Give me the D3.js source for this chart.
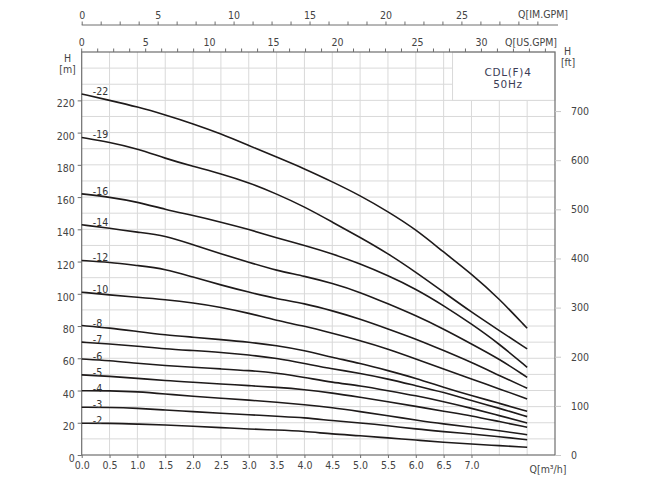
<!DOCTYPE html>
<html>
<head>
<meta charset="utf-8">
<script src="https://cdn.jsdelivr.net/npm/d3@7"></script>
<style>
  body { margin: 0; background: #fff; }
  text { font-family: "Liberation Sans Narrow", "DejaVu Sans Condensed", "Roboto Condensed", sans-serif; fill: #444; }
</style>
</head>
<body>
<script>
// frame
const FRAME_WIDTH = 650;
const FRAME_HEIGHT = 486;
const PLOT = {left: 81.7, right: 555, top: 52, bottom: 455};

// data
const flows = [0, 0.5, 1, 1.5, 2, 2.5, 3, 3.5, 4, 4.5, 5, 5.5, 6, 6.5, 7, 7.5, 8];   // m3/h
const stages = [22, 19, 16, 14, 12, 10, 8, 7, 6, 5, 4, 3, 2];
const heads22 = [224, 220, 216, 211, 205.5, 199.3, 192, 184.8, 177.6, 169.5, 161, 151, 140, 125.8, 112.4, 96.9, 78.6];
const heads19 = [197, 194, 190, 184, 179, 174.5, 169, 162, 154, 144.5, 135, 125, 113.4, 101, 88.6, 77.2, 65.8];
const heads16 = [162, 160, 157, 152.3, 148.6, 144.5, 140, 134.7, 130, 124.8, 118.6, 111.3, 103, 92.7, 81.3, 68.9, 54.4];
const heads14 = [142.8, 140.7, 138.2, 136.2, 130.4, 124.8, 119.6, 114.4, 111, 106.5, 101, 93.8, 86.5, 78.2, 68.9, 59.6, 48.2];
const heads12 = [120.7, 119.6, 117.5, 115.5, 110.3, 105.5, 101, 96.9, 94, 89.5, 84.4, 78.2, 72, 64.8, 57.5, 49.3, 41.4];
const heads10 = [101, 99.3, 97.9, 96.4, 94.4, 91.7, 88, 83.4, 80, 75.5, 71, 65.8, 59.6, 53.4, 47.2, 41, 34.8];
const heads8 = [80.3, 78.8, 76.6, 74.5, 73.1, 71.6, 70, 67.9, 64.8, 60.6, 56.9, 52.4, 47.6, 42, 36.8, 32.1, 27.1];
const heads7 = [70, 68.9, 67.5, 65.8, 64.8, 63.7, 62.1, 60, 56.8, 53.4, 50.7, 47.2, 43, 38.9, 33.7, 29, 23.8];
const heads6 = [59.6, 58.6, 56.9, 55.5, 54.4, 53.4, 52.4, 50.9, 48.2, 45, 43, 39.9, 36.8, 33.1, 29, 24.4, 19.9];
const heads5 = [49.7, 48.8, 47.6, 46.1, 45.1, 44.1, 43, 42, 40.6, 38.5, 35.8, 33.1, 30.2, 27.1, 24.4, 20.7, 17.2];
const heads4 = [39.9, 39.9, 39.3, 37.9, 36.4, 35.2, 34.1, 32.7, 31.2, 29.4, 26.9, 24.4, 21.7, 19.2, 17.2, 15.1, 12.6];
const heads3 = [29.6, 29.6, 29, 27.9, 26.9, 25.9, 25, 24, 23.2, 21.3, 19.9, 18.2, 16.1, 14.5, 13, 11.4, 9.5];
const heads2 = [19.7, 19.7, 19.2, 18.6, 17.8, 17, 16.1, 15.5, 14.7, 13, 12, 10.6, 9.3, 7.9, 6.8, 5.8, 4.8];
const allHeads = [heads22, heads19, heads16, heads14, heads12, heads10, heads8, heads7, heads6, heads5, heads4, heads3, heads2];

// tick labels
const qTicks = [0, 0.5, 1, 1.5, 2, 2.5, 3, 3.5, 4, 4.5, 5, 5.5, 6, 6.5, 7];
const mTicks = [0, 20, 40, 60, 80, 100, 120, 140, 160, 180, 200, 220];
const ftTicks = [0, 100, 200, 300, 400, 500, 600, 700];
const imGpmLabels = [0, 5, 10, 15, 20, 25];
const usGpmLabels = [0, 5, 10, 15, 20, 25, 30];
const usGpmLabelTick = [0, 4, 8, 12, 16, 21, 25];   // tick mark each label sits on

const FRAME = d3.select("body")
                .append("svg")
                    .attr("width", FRAME_WIDTH)
                    .attr("height", FRAME_HEIGHT);

const x = d3.scaleLinear().domain([0, 8.5]).range([PLOT.left, PLOT.right]);
const y = d3.scaleLinear().domain([0, 250]).range([PLOT.bottom, PLOT.top]);
const yFt = d3.scaleLinear().domain([0, 250 / 0.3048]).range([PLOT.bottom, PLOT.top]);
const xIm = d3.scaleLinear().domain([0, 8.5 * 3.666]).range([PLOT.left, PLOT.right]);
const xUsTick = d3.scaleLinear().domain([0, 29.6]).range([PLOT.left, PLOT.right]);

// grid
FRAME.append("g")
    .selectAll("line")
    .data(d3.range(10, 250, 10))
    .enter()
    .append("line")
      .attr("x1", PLOT.left).attr("x2", PLOT.right)
      .attr("y1", d => y(d)).attr("y2", d => y(d))
      .attr("stroke", "#d9d9d9");

FRAME.append("g")
    .selectAll("line")
    .data(d3.range(0.5, 8.5, 0.5))
    .enter()
    .append("line")
      .attr("x1", d => x(d)).attr("x2", d => x(d))
      .attr("y1", PLOT.top).attr("y2", PLOT.bottom)
      .attr("stroke", "#d9d9d9");

// model box top right
FRAME.append("rect")
    .attr("x", x(6.66)).attr("y", PLOT.top)
    .attr("width", PLOT.right - x(6.66)).attr("height", y(220) - PLOT.top)
    .attr("fill", "#fff").attr("stroke", "#d9d9d9");

FRAME.append("text")
    .attr("x", 508).attr("y", 76)
    .attr("text-anchor", "middle")
    .attr("font-size", "10.5px")
    .attr("letter-spacing", "0.7px")
    .style("font-family", "'DejaVu Sans', sans-serif")
    .style("fill", "#3b3b55")
    .text("CDL(F)4");
FRAME.append("text")
    .attr("x", 508).attr("y", 87.5)
    .attr("text-anchor", "middle")
    .attr("font-size", "10.5px")
    .attr("letter-spacing", "0.7px")
    .style("font-family", "'DejaVu Sans', sans-serif")
    .style("fill", "#3b3b55")
    .text("50Hz");

// frame lines
FRAME.append("rect")
    .attr("x", PLOT.left).attr("y", PLOT.top)
    .attr("width", PLOT.right - PLOT.left).attr("height", PLOT.bottom - PLOT.top)
    .attr("fill", "none").attr("stroke", "#6e6e6e").attr("stroke-width", 1.2);

// curves
const line = d3.line()
    .x((d, i) => x(flows[i]))
    .y(d => y(d))
    .curve(d3.curveBasis);

FRAME.append("g")
    .selectAll("path")
    .data(allHeads)
    .enter()
    .append("path")
      .attr("d", d => line(d))
      .attr("fill", "none")
      .attr("stroke", "#1e1a1a")
      .attr("stroke-width", 1.6);

FRAME.append("g")
    .selectAll("text")
    .data(stages)
    .enter()
    .append("text")
      .attr("x", x(0.2))
      .attr("y", (d, i) => y(allHeads[i][0]) - 3)
      .attr("dominant-baseline", "central")
      .attr("font-size", "10.5px")
      .style("fill", "#333")
      .text(d => "-" + d);

// styling for axes
function styleAxis(g, tickColor) {
  g.select(".domain").remove();
  g.selectAll(".tick line").attr("stroke", tickColor);
  g.selectAll(".tick text").attr("font-size", "10.5px").style("fill", "#444");
}

// bottom axis
FRAME.append("g")
    .attr("transform", "translate(0," + PLOT.bottom + ")")
    .call(d3.axisBottom(x).tickValues(qTicks).tickFormat(d3.format(".1f")).tickSize(3).tickPadding(4))
    .call(g => styleAxis(g, "#6e6e6e"));

// left axis
FRAME.append("g")
    .attr("transform", "translate(" + PLOT.left + ",0)")
    .call(d3.axisLeft(y).tickValues(mTicks).tickSize(4).tickPadding(3))
    .call(g => styleAxis(g, "#6e6e6e"))
    .call(g => g.selectAll(".tick text").attr("dy", "0.62em"));

// right axis (feet)
FRAME.append("g")
    .attr("transform", "translate(" + PLOT.right + ",0)")
    .call(d3.axisRight(yFt).tickValues(ftTicks).tickSize(6).tickPadding(10))
    .call(g => styleAxis(g, "#c8c8c8"));

// top axis: US GPM (on the frame)
FRAME.append("g")
    .selectAll("line")
    .data(d3.range(0, 30))
    .enter()
    .append("line")
      .attr("x1", d => xUsTick(d)).attr("x2", d => xUsTick(d))
      .attr("y1", PLOT.top).attr("y2", PLOT.top - 3.5)
      .attr("stroke", "#6e6e6e");

FRAME.append("g")
    .selectAll("text")
    .data(usGpmLabels)
    .enter()
    .append("text")
      .attr("x", (d, i) => xUsTick(usGpmLabelTick[i]))
      .attr("y", PLOT.top - 6)
      .attr("text-anchor", "middle")
      .attr("font-size", "10.5px")
      .text(d => d);

// top axis: IM GPM
FRAME.append("g")
    .attr("transform", "translate(0,25)")
    .call(d3.axisTop(xIm).tickValues(d3.range(0, 30.01, 1.25)).tickSize(3.5).tickPadding(3)
      .tickFormat(d => imGpmLabels.includes(d) ? d : ""))
    .call(g => g.select(".domain").attr("stroke", "#6e6e6e").attr("d", "M" + PLOT.left + ",0H558"))
    .call(g => g.selectAll(".tick line").attr("stroke", "#6e6e6e"))
    .call(g => g.selectAll(".tick text").attr("font-size", "10.5px").style("fill", "#444"));

// axis titles
FRAME.append("text").attr("x", 568).attr("y", 18).attr("text-anchor", "end")
    .attr("font-size", "10.5px").text("Q[IM.GPM]");
FRAME.append("text").attr("x", 557).attr("y", 46).attr("text-anchor", "end")
    .attr("font-size", "10.5px").text("Q[US.GPM]");
FRAME.append("text").attr("x", 548).attr("y", 473).attr("text-anchor", "middle")
    .attr("font-size", "10.5px").text("Q[m³/h]");
FRAME.append("text").attr("x", 67.5).attr("y", 62).attr("text-anchor", "middle")
    .attr("font-size", "10.5px").text("H");
FRAME.append("text").attr("x", 67.5).attr("y", 73).attr("text-anchor", "middle")
    .attr("font-size", "10.5px").text("[m]");
FRAME.append("text").attr("x", 567.5).attr("y", 55).attr("text-anchor", "middle")
    .attr("font-size", "10.5px").text("H");
FRAME.append("text").attr("x", 568).attr("y", 66).attr("text-anchor", "middle")
    .attr("font-size", "10.5px").text("[ft]");
</script>
</body>
</html>
